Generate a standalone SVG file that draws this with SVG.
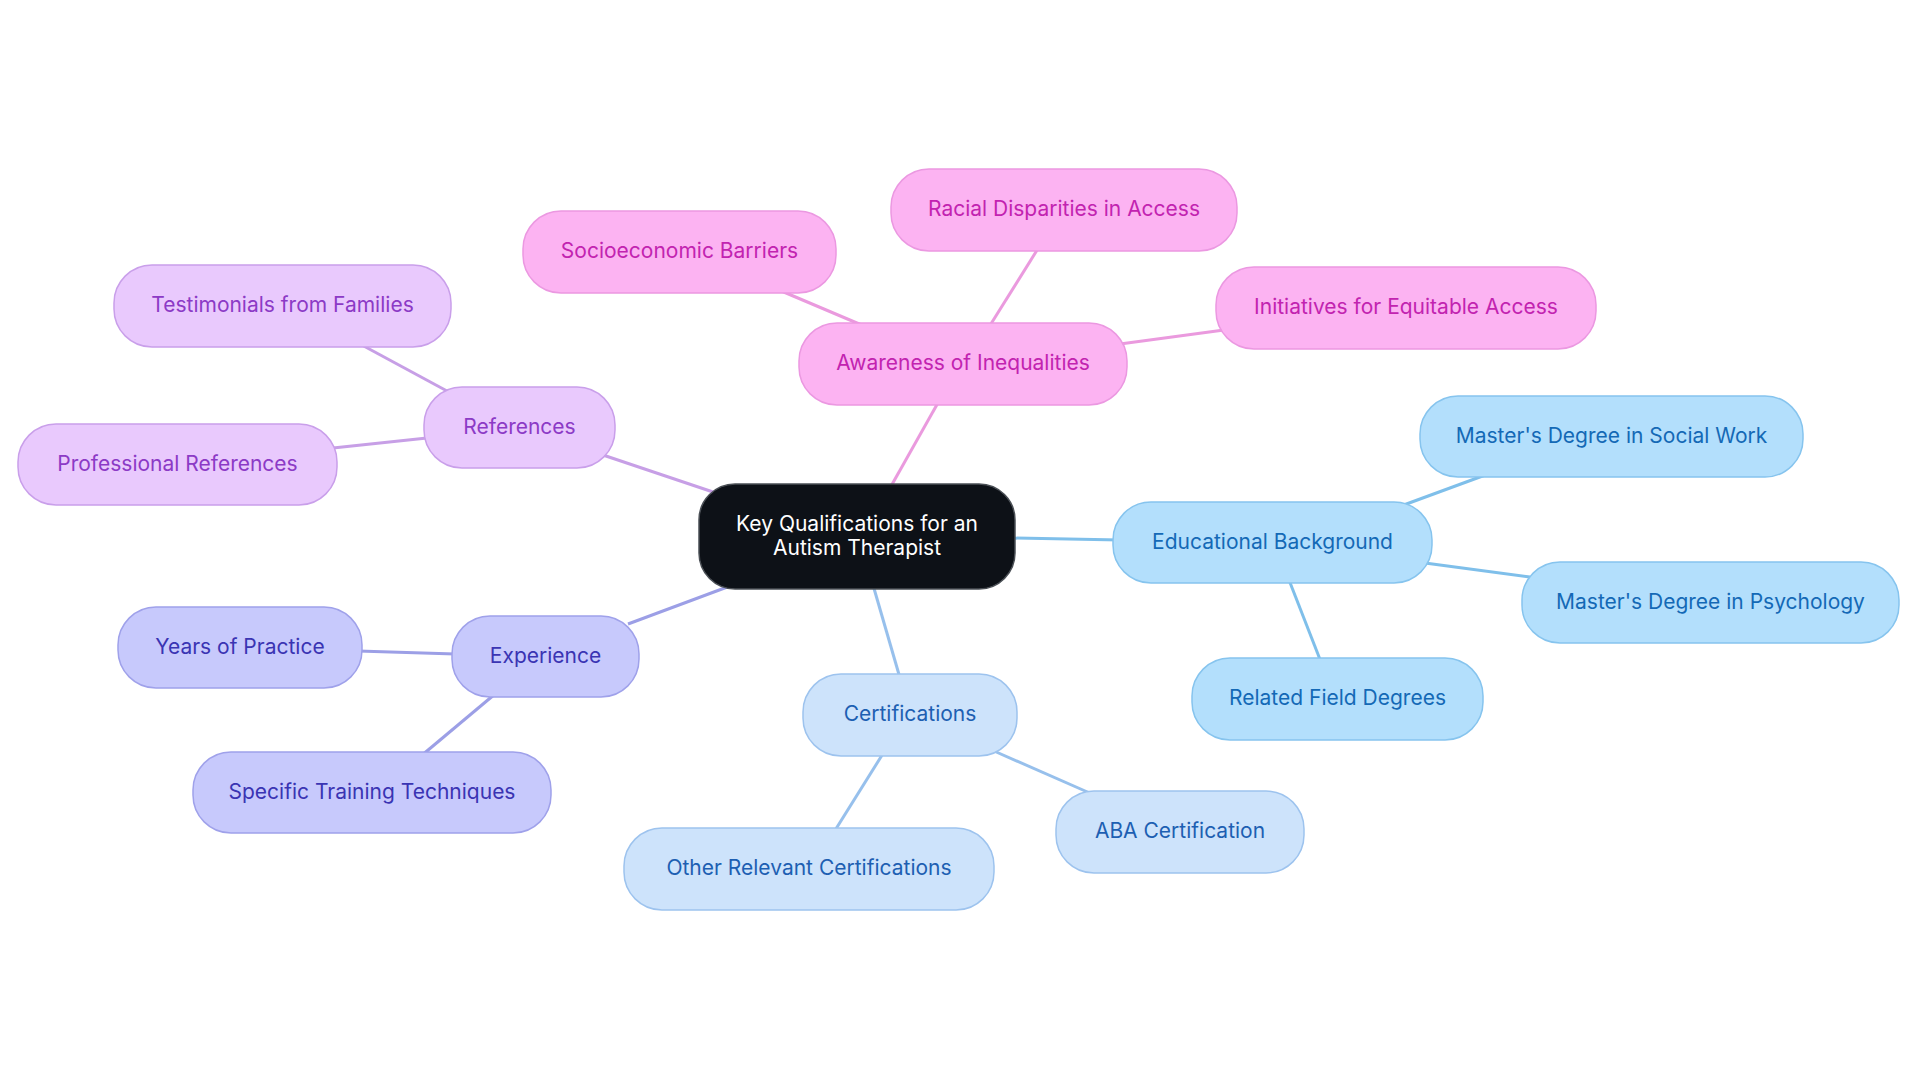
<svg xmlns="http://www.w3.org/2000/svg" width="1920" height="1083" viewBox="0 0 1920 1083">
<style>
text{font-family:Inter,"Noto Sans","Liberation Sans",sans-serif;font-size:21px;text-anchor:middle}
.n rect{stroke-width:1.5}
.edu rect{fill:#B3DFFC;stroke:#86C4EE}.edu text{fill:#1469B6}
.cert rect{fill:#CDE3FB;stroke:#9DC3EE}.cert text{fill:#1D5FB2}
.exp rect{fill:#C7C9FC;stroke:#9FA1EA}.exp text{fill:#3A34B3}
.ref rect{fill:#E9C9FD;stroke:#C99FEA}.ref text{fill:#8C3AC6}
.ine rect{fill:#FCB3F2;stroke:#EB98E1}.ine text{fill:#C223B0}
#connectors line{stroke-width:3;fill:none}
.ce{stroke:#7FBFEA}.cc{stroke:#97C0EC}.cx{stroke:#9C9FE6}.cr{stroke:#C79FE6}.ci{stroke:#EA9ADE}
</style>
<rect width="1920" height="1083" fill="#ffffff"/>
<g id="connectors">
<line class="ce" x1="1010" y1="538" x2="1120" y2="540"/>
<line class="ce" x1="1401" y1="506" x2="1488" y2="474"/>
<line class="ce" x1="1425" y1="563" x2="1530" y2="577"/>
<line class="ce" x1="1289" y1="580" x2="1321" y2="662"/>
<line class="cc" x1="873" y1="585" x2="900" y2="678"/>
<line class="cc" x1="994" y1="751" x2="1092" y2="794"/>
<line class="cc" x1="884" y1="752" x2="834" y2="832"/>
<line class="cx" x1="730" y1="586" x2="628" y2="624"/>
<line class="cx" x1="455" y1="654" x2="358" y2="651"/>
<line class="cx" x1="495" y1="694" x2="421" y2="756"/>
<line class="cr" x1="716" y1="493" x2="600" y2="454"/>
<line class="cr" x1="447" y1="391" x2="360" y2="344"/>
<line class="cr" x1="427" y1="438" x2="333" y2="448"/>
<line class="ci" x1="890" y1="488" x2="939" y2="401"/>
<line class="ci" x1="864" y1="326" x2="779" y2="290"/>
<line class="ci" x1="989" y1="327" x2="1039" y2="247"/>
<line class="ci" x1="1120" y1="344" x2="1224" y2="330"/>
</g>
<g id="central"><rect x="699" y="484" width="316" height="105" rx="36" fill="#0D1117" stroke="#4a4f55" stroke-width="1.5"/><text x="857" y="531" fill="#ffffff">Key Qualifications for an</text><text x="857" y="555" fill="#ffffff">Autism Therapist</text></g>
<g id="educational-background" class="n edu"><rect x="1113" y="502" width="319" height="81" rx="38"/><text x="1272.5" y="548.5">Educational Background</text></g>
<g id="masters-social-work" class="n edu"><rect x="1420" y="396" width="383" height="81" rx="38"/><text x="1611.5" y="442.5">Master's Degree in Social Work</text></g>
<g id="masters-psychology" class="n edu"><rect x="1522" y="562" width="377" height="81" rx="38"/><text x="1710.5" y="608.5">Master's Degree in Psychology</text></g>
<g id="related-field-degrees" class="n edu"><rect x="1192" y="658" width="291" height="82" rx="38"/><text x="1337.5" y="705">Related Field Degrees</text></g>
<g id="certifications" class="n cert"><rect x="803" y="674" width="214" height="82" rx="38"/><text x="910" y="721">Certifications</text></g>
<g id="aba-certification" class="n cert"><rect x="1056" y="791" width="248" height="82" rx="38"/><text x="1180" y="838">ABA Certification</text></g>
<g id="other-certifications" class="n cert"><rect x="624" y="828" width="370" height="82" rx="38"/><text x="809" y="875">Other Relevant Certifications</text></g>
<g id="experience" class="n exp"><rect x="452" y="616" width="187" height="81" rx="38"/><text x="545.5" y="662.5">Experience</text></g>
<g id="years-of-practice" class="n exp"><rect x="118" y="607" width="244" height="81" rx="38"/><text x="240" y="653.5">Years of Practice</text></g>
<g id="specific-training" class="n exp"><rect x="193" y="752" width="358" height="81" rx="38"/><text x="372" y="798.5">Specific Training Techniques</text></g>
<g id="references" class="n ref"><rect x="424" y="387" width="191" height="81" rx="38"/><text x="519.5" y="433.5">References</text></g>
<g id="testimonials" class="n ref"><rect x="114" y="265" width="337" height="82" rx="38"/><text x="282.5" y="312">Testimonials from Families</text></g>
<g id="professional-references" class="n ref"><rect x="18" y="424" width="319" height="81" rx="38"/><text x="177.5" y="470.5">Professional References</text></g>
<g id="awareness" class="n ine"><rect x="799" y="323" width="328" height="82" rx="38"/><text x="963" y="370">Awareness of Inequalities</text></g>
<g id="socioeconomic" class="n ine"><rect x="523" y="211" width="313" height="82" rx="38"/><text x="679.5" y="258">Socioeconomic Barriers</text></g>
<g id="racial-disparities" class="n ine"><rect x="891" y="169" width="346" height="82" rx="38"/><text x="1064" y="216">Racial Disparities in Access</text></g>
<g id="initiatives" class="n ine"><rect x="1216" y="267" width="380" height="82" rx="38"/><text x="1406" y="314">Initiatives for Equitable Access</text></g>
</svg>
